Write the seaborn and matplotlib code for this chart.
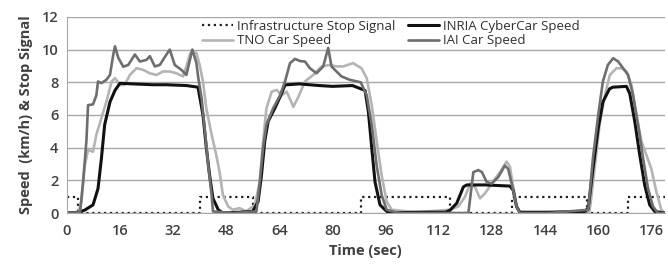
import matplotlib
matplotlib.use("Agg")
import matplotlib.pyplot as plt
import pandas as pd
import seaborn as sns

# stop signal change points (step function, held until next change)
stop_t = [0, 3.5, 40, 56, 88.5, 115.5, 134, 156.5, 169, 180]
stop_v = [1, 0, 1, 0, 1, 0, 1, 0, 1, 1]

# INRIA CyberCar speed (km/h)
inria_t = [0, 3.5, 5.4, 7.9, 9.4, 10.4, 11.4, 13, 14.5, 16, 20, 26, 30, 36, 39.5,
           41, 42, 43, 44, 45.6, 47, 52, 56, 57.6, 58.6, 59.6, 60.6, 62.6, 64.2,
           65.7, 70, 76, 80, 86, 89.8, 90.8, 91.8, 92.8, 94.3, 95.8, 97, 105,
           114, 115.4, 117.4, 119.4, 120.4, 126, 133.4, 134.4, 135.4, 136.4,
           145, 156, 157, 158.4, 160, 161.4, 163.4, 164.4, 168.5, 169.5, 171, 172.5,
           174, 175.5, 177, 180]
inria_v = [0, 0.05, 0.18, 0.5, 1.5, 3.3, 5.4, 6.8, 7.5, 7.94, 7.9, 7.85, 7.85, 7.8, 7.7,
           6.0, 4.0, 2.3, 0.9, 0.2, 0, 0.05, 0.1, 0.7, 2.3, 4.4, 5.6, 6.4, 7.1,
           7.84, 7.9, 7.8, 7.75, 7.8, 7.5, 6.2, 4.0, 1.9, 0.5, 0.2, 0, 0.05,
           0.05, 0.18, 0.6, 1.6, 1.72, 1.72, 1.65, 1.4, 0.4, 0.05,
           0.05, 0.1, 0.3, 2.7, 5.2, 6.8, 7.6, 7.7, 7.75, 7.3, 5.6, 3.55,
           1.7, 0.5, 0.1, 0]

# TNO car speed (km/h)
tno_t = [0, 3.5, 4.4, 5.4, 6.4, 7.9, 8.9, 10.4, 11.9, 13.5, 14.5, 16, 17.4, 19,
         21, 23, 25, 27, 29, 31, 33, 35, 36, 37.2, 39, 40, 41, 42, 43.6, 45,
         46, 47, 48.6, 50, 52, 54, 56.6, 58.1, 59.1, 60.1, 61.7, 63.2, 64.7,
         66.2, 68.2, 69.7, 71.7, 74.2, 76.7, 79.2, 81.2, 83.2, 86.2, 88.7,
         90.3, 91.8, 93.3, 94.8, 96.3, 97.8, 105, 115.4, 117.9, 119.9, 121.4,
         122.9, 124.4, 125.9, 127.9, 130.4, 132.4, 133.4, 134.4, 135.4, 136.4,
         145, 157.4, 158.9, 160.4, 162, 163.5, 165.5, 167, 168.5, 170, 171.5,
         173, 174.5, 176, 177.5, 179, 180]
tno_v = [0, 0.05, 0.7, 2.9, 3.86, 3.75, 4.8, 5.8, 6.8, 8.05, 8.25, 7.84, 7.84, 8.45,
         8.86, 8.76, 8.55, 8.45, 8.66, 8.66, 8.55, 8.36, 8.97, 9.8, 9.8, 9.06, 8.05, 6.4, 4.8, 3.55,
         2.5, 1.1, 0.4, 0.2, 0.3, 0.1, 0.5, 1.9, 4.4, 6.4, 7.43, 7.53, 7.2,
         7.43, 6.5, 7.1, 8.05, 8.45, 8.97, 9.06, 8.97, 8.97, 9.17, 8.86,
         8.25, 6.6, 4.4, 2.3, 0.7, 0.2, 0.05, 0.2, 0.4, 1.0, 1.8,
         1.6, 0.9, 1.2, 1.8, 2.5, 3.15, 2.85, 1.6, 0.4, 0,
         0.05, 0.1, 2.7, 5.4, 7.2, 8.45, 8.86, 8.86, 8.66, 7.84, 6.0,
         4.4, 3.55, 2.7, 1.3, 0.2, 0]

# IAI car speed (km/h)
iai_t = [0, 4, 4.9, 5.9, 6.4, 7.9, 8.9, 9.4, 10.4, 11.9, 13, 14, 14.5, 15.5, 17,
         18.5, 20.5, 22, 24, 25, 26.5, 28, 30, 31, 32.5, 34.5, 36, 37.8, 39,
         39.6, 40.6, 41.6, 42.6, 43.6, 44, 50, 57.1, 58.1, 59.1, 60.1, 62.1,
         64.2, 65.7, 67.2, 68.7, 70.2, 71.7, 73.2, 75.2, 77.2, 78.7, 79.7,
         81.2, 82.7, 85.2, 88.5, 90.3, 91.8, 93.3, 94.8, 96.3, 100, 120.9,
         122.4, 123.9, 125, 126.4, 127.9, 129.9, 131.9, 132.9, 134.4, 135.4,
         136.4, 145, 157, 158.4, 160, 161.4, 162.9, 164.5, 166, 167.5, 169,
         170.5, 172, 173.5, 175, 176.5, 178, 180]
iai_v = [0, 0.05, 1.9, 4.4, 6.6, 6.65, 7.2, 8.05, 7.95, 8.15, 8.45, 9.7, 10.2, 9.5, 8.95,
         9.06, 9.7, 9.27, 9.37, 9.6, 8.97, 9.06, 9.7, 10.0, 9.06, 8.76, 8.45, 10.0, 9.2,
         8.25, 7.0, 5.0, 2.9, 1.1, 0.1, 0, 0.1, 1.9, 4.0, 5.4, 6.4,
         7.2, 8.05, 9.17, 9.43, 9.3, 9.27, 8.86, 8.55, 8.97, 10.1, 8.97,
         8.66, 8.36, 8.15, 8.0, 7.2, 5.4, 2.9, 1.1, 0.2, 0, 0,
         2.5, 2.63, 2.5, 1.9, 1.8, 2.2, 2.9, 2.7, 1.4, 0.4,
         0, 0, 0.2, 3.35, 6.0, 8.05, 9.06, 9.47, 9.27, 8.86, 8.45,
         7.2, 5.4, 3.35, 1.5, 0.4, 0, 0]

sns.set_style("white")
plt.rcParams["font.family"] = ["Open Sans", "DejaVu Sans"]

fig, ax = plt.subplots(figsize=(6.68, 2.64), dpi=100)
fig.subplots_adjust(left=0.1, right=0.995, bottom=0.193, top=0.936)

sns.lineplot(x=stop_t, y=stop_v, ax=ax, color="#202020", linestyle=":",
             linewidth=1.6, drawstyle="steps-post", label="Infrastructure Stop Signal")
sns.lineplot(x=tno_t, y=tno_v, ax=ax, color="#b4b4b4", linewidth=1.9,
             label="TNO Car Speed")
sns.lineplot(x=inria_t, y=inria_v, ax=ax, color="#111111", linewidth=2.2,
             label="INRIA CyberCar Speed")
sns.lineplot(x=iai_t, y=iai_v, ax=ax, color="#6e6e6e", linewidth=1.9,
             label="IAI Car Speed")

ax.set_xlim(0, 180)
ax.set_ylim(0, 12)
ax.set_xticks(range(0, 177, 16))
ax.set_yticks(range(0, 13, 2))
ax.yaxis.grid(True, color="#a8a8a8", linewidth=1)
ax.set_axisbelow(True)
for s in ["top", "right"]:
    ax.spines[s].set_visible(False)
ax.spines["left"].set_color("#a8a8a8")
ax.spines["bottom"].set_color("#a8a8a8")
ax.tick_params(axis="x", length=4, color="#a8a8a8", pad=4)
ax.tick_params(axis="y", length=0, pad=6)
for lab in ax.get_xticklabels() + ax.get_yticklabels():
    lab.set_fontsize(10.5)
    lab.set_fontweight("semibold")
    lab.set_color("#404040")

ax.set_xlabel("Time (sec)", fontsize=10.5, fontweight="bold", color="#404040", labelpad=4)
ax.set_ylabel("Speed  (km/h) & Stop Signal", fontsize=10.5, fontweight="bold",
              color="#404040", labelpad=6)

handles, labels = ax.get_legend_handles_labels()
ax.legend(handles, labels, ncol=2, frameon=False, fontsize=9.5,
          loc="upper left", bbox_to_anchor=(0.293, 0.95), bbox_transform=fig.transFigure,
          handlelength=2.3, columnspacing=1.0, handletextpad=0.3,
          labelspacing=0.12, borderpad=0, labelcolor="#303030")

plt.savefig("out.png", dpi=100)
